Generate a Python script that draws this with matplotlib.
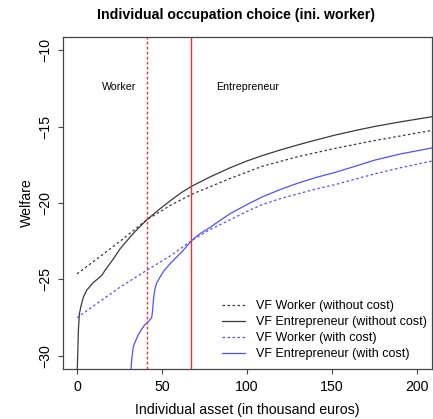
import matplotlib
matplotlib.use("Agg")
import matplotlib.pyplot as plt

plt.rcParams["font.family"] = ["Liberation Sans", "DejaVu Sans"]

# asset grid (thousand euros) and value functions read per curve
worker_nc_x = [0, 10, 20, 25.3, 41, 55, 67.5, 78, 90, 109, 130, 151.8, 175, 208.8]
worker_nc_y = [-24.63, -23.8, -22.95, -22.5, -21.1, -20.15, -19.43, -18.95, -18.4,
               -17.6, -16.97, -16.43, -15.92, -15.25]

entre_nc_x = [0, 0.4, 0.8, 1.4, 2.2, 3.7, 5.7, 9.6, 14.5, 16.5, 21.4, 25.3, 33, 41, 48,
              55, 61, 67.5, 78.2, 90, 100, 109, 120, 130, 140, 151.8, 165, 175, 190, 208.8]
entre_nc_y = [-31.5, -30.0, -28.35, -27.25, -26.8, -26.16, -25.7, -25.2, -24.74, -24.4,
              -23.65, -23.0, -22.0, -21.1, -20.45, -19.84, -19.35, -18.9, -18.3, -17.7,
              -17.25, -16.9, -16.52, -16.2, -15.9, -15.56, -15.23, -15.0, -14.7, -14.36]

worker_c_x = [0, 25.3, 41, 55, 67.5, 78, 90, 100, 109, 120, 130, 140, 151.8, 165, 175,
              190, 208.8]
worker_c_y = [-27.5, -25.5, -24.4, -23.45, -22.45, -21.75, -21.1, -20.55, -20.1, -19.7,
              -19.4, -19.1, -18.8, -18.4, -18.1, -17.7, -17.26]

entre_c_x = [31.5, 31.8, 32.2, 33.1, 34.5, 36.1, 38, 40, 42, 43.9, 44.4, 44.9, 45.3, 45.9,
             46.8, 48.8, 51, 54.7, 58, 61.6, 64, 67.5, 72.4, 78.2, 84, 90, 100, 109, 120,
             130, 140, 151.8, 165, 175, 190, 208.8]
entre_c_y = [-31.5, -30.85, -30.2, -29.4, -29.0, -28.6, -28.25, -27.95, -27.75, -27.5,
             -27.1, -26.4, -26.0, -25.6, -25.25, -24.85, -24.45, -23.97, -23.6, -23.2,
             -22.9, -22.45, -22.0, -21.6, -21.15, -20.7, -20.1, -19.6, -19.1, -18.7,
             -18.35, -18.0, -17.55, -17.2, -16.8, -16.4]

threshold_cost = 40.9
threshold_nocost = 67.3

legend_labels = ["VF Worker (without cost)", "VF Entrepreneur (without cost)",
                 "VF Worker (with cost)", "VF Entrepreneur (with cost)"]

W, H = 433, 419
fig = plt.figure(figsize=(W / 100, H / 100), dpi=100)
ax = fig.add_axes([63.3 / W, (H - 369) / H, (432 - 63.3) / W, (369 - 37) / H])

black = "#3a3a3a"
blue = "#5050ff"
lw = 0.9
dash = (2.0, 2.0)

ax.plot(worker_nc_x, worker_nc_y, color=black, lw=lw, dashes=dash, label=legend_labels[0])
ax.plot(entre_nc_x, entre_nc_y, color=black, lw=lw, label=legend_labels[1])
ax.plot(worker_c_x, worker_c_y, color=blue, lw=lw, dashes=dash, label=legend_labels[2])
ax.plot(entre_c_x, entre_c_y, color=blue, lw=lw, label=legend_labels[3])

# occupation thresholds with and without entry cost
ax.axvline(threshold_cost, color="#ff2a2a", lw=1.0, dashes=(2.0, 1.6))
ax.axvline(threshold_nocost, color="#f03030", lw=1.0)

ax.text(25, -12.45, "Worker", ha="center", va="center", fontsize=7.7)
ax.text(100.6, -12.45, "Entrepreneur", ha="center", va="center", fontsize=7.7)

ax.set_xlim(-8.06, 208.8)
ax.set_ylim(-30.85, -9.15)
ax.set_xticks([0, 50, 100, 150, 200])
ax.set_yticks([-30, -25, -20, -15, -10])
ax.tick_params(direction="out", length=3.6, width=0.8, color="#444444",
               labelsize=10.2, pad=4)
for lab in ax.get_yticklabels():
    lab.set_rotation(90)
    lab.set_va("center")
for sp in ax.spines.values():
    sp.set_color("#444444")
    sp.set_linewidth(0.9)

ax.set_xlabel("Individual asset (in thousand euros)", fontsize=10.2)
ax.set_ylabel("Welfare", fontsize=10.2)
ax.xaxis.set_label_coords((247.6 - 63.3) / (432 - 63.3), -(410 - 369) / (369 - 37))
ax.yaxis.set_label_coords(-(63.3 - 27) / (432 - 63.3), 0.5)
ax.xaxis.label.set_va("center")
ax.yaxis.label.set_va("center")

fig.text(235.7 / W, 1 - 15 / H, "Individual occupation choice (ini. worker)",
         ha="center", va="center", fontsize=10.2, fontweight="bold")

ax.legend(loc="upper left", bbox_to_anchor=(221.7 / W, 1 - 300 / H),
          bbox_transform=fig.transFigure, frameon=False, fontsize=9,
          borderpad=0, borderaxespad=0, handlelength=1.9, handletextpad=0.85,
          labelspacing=0.33)

fig.savefig("out.png", dpi=100)
